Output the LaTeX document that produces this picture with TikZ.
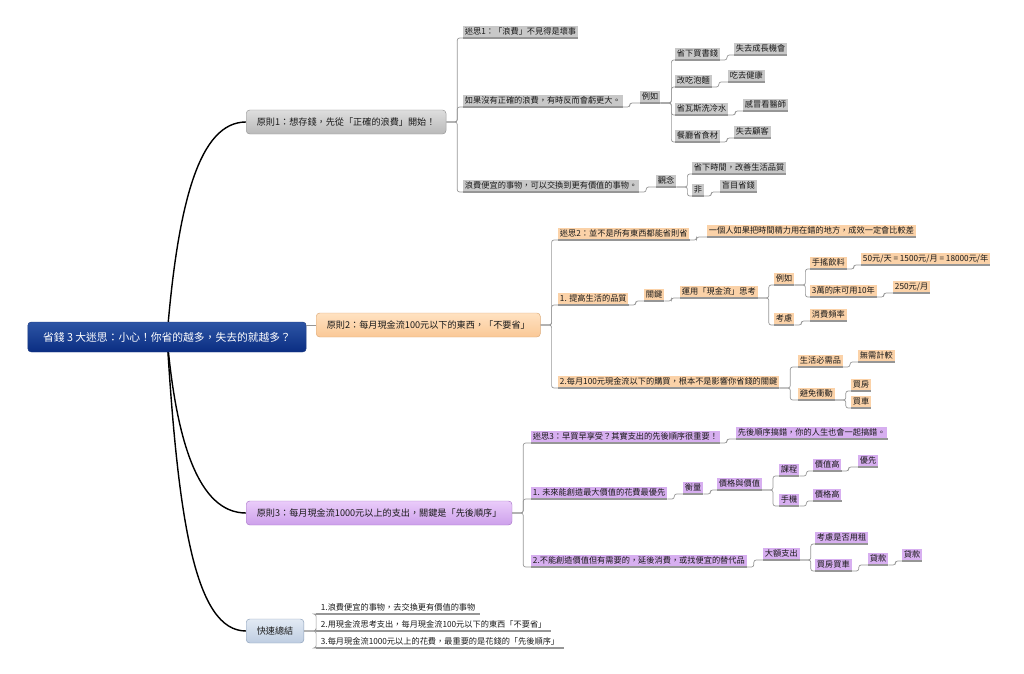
\documentclass[tikz,border=0pt]{standalone}
\usepackage{fontspec}
\setmainfont{Noto Sans CJK TC}[Language=Chinese Traditional]
\usetikzlibrary{positioning}
\usetikzlibrary{backgrounds}

\definecolor{roottop}{RGB}{45,85,165}
\definecolor{rootbot}{RGB}{10,45,130}
\definecolor{rootedge}{RGB}{30,60,130}
\definecolor{gtop}{RGB}{222,222,222}
\definecolor{gbot}{RGB}{185,185,185}
\definecolor{gedge}{RGB}{150,150,150}
\definecolor{otop}{RGB}{255,226,194}
\definecolor{obot}{RGB}{250,200,150}
\definecolor{oedge}{RGB}{220,170,120}
\definecolor{ptop}{RGB}{234,204,250}
\definecolor{pbot}{RGB}{205,160,235}
\definecolor{pedge}{RGB}{170,120,200}
\definecolor{stop}{RGB}{226,234,244}
\definecolor{sbot}{RGB}{190,205,225}
\definecolor{sedge}{RGB}{140,160,185}
\definecolor{fillg}{RGB}{200,200,200}
\definecolor{fillo}{RGB}{251,210,168}
\definecolor{fillp}{RGB}{215,175,240}
\definecolor{linegray}{RGB}{150,150,150}

\begin{document}
\begin{tikzpicture}[
    x=0.03cm, y=-0.03cm,
    font=\fontsize{7}{8}\selectfont
]
\tikzset{
    rootnode/.style = {rounded corners=3pt, draw=rootedge, top color=roottop, bottom color=rootbot, text=white, inner xsep=13pt, minimum height=0.9cm, font=\fontsize{9.2}{10}\selectfont},
    topic/.style = {rounded corners=3pt, anchor=west, inner xsep=9pt, minimum height=0.72cm, text=black!90, font=\fontsize{7.8}{9}\selectfont},
    topicg/.style = {topic, draw=gedge, top color=gtop, bottom color=gbot},
    topico/.style = {topic, draw=oedge, top color=otop, bottom color=obot},
    topicp/.style = {topic, draw=pedge, top color=ptop, bottom color=pbot},
    topics/.style = {topic, draw=sedge, top color=stop, bottom color=sbot},
    uline/.style = {draw=linegray, line width=0.9pt},
    leaf/.style = {anchor=south west, inner xsep=1.5pt, inner ysep=0pt, minimum height=0.36cm, text=black!90,
        append after command={(\tikzlastnode.south west) edge[uline] (\tikzlastnode.south east)}},
    leafg/.style = {leaf, fill=fillg},
    leafo/.style = {leaf, fill=fillo},
    leafp/.style = {leaf, fill=fillp},
    leafs/.style = {leaf, inner xsep=4pt},
    link/.style = {draw=linegray, line width=0.6pt, rounded corners=2pt},
    elbow/.style = {to path={-- ++(#1,0) |- (\tikztotarget)}},
    elbow/.default = 11,
    curve/.style = {black, line width=1.2pt}
}
\useasboundingbox (0,0) rectangle (1024,674);

\node[rootnode] at (167,337) (root) {省錢 3 大迷思：小心！你省的越多，失去的就越多？};
\node[topicg] at (246,122) (p1) {原則1：想存錢，先從「正確的浪費」開始！};
\node[topico] at (316,325) (p2) {原則2：每月現金流100元以下的東西，「不要省」};
\node[topicp] at (246,513) (p3) {原則3：每月現金流1000元以上的支出，關鍵是「先後順序」};
\node[topics] at (246,631) (sum) {快速總結};

\node[leafg] at (463,38) (a1) {迷思1：「浪費」不見得是壞事};
\node[leafg] at (463,107) (a2) {如果沒有正確的浪費，有時反而會虧更大。};
\node[leafg] at (640,103) (a21) {例如};
\node[leafg] at (675,60) (a211) {省下買書錢};
\node[leafg] at (734,55) (a2111) {失去成長機會};
\node[leafg] at (675,87) (a212) {改吃泡麵};
\node[leafg] at (728,82) (a2121) {吃去健康};
\node[leafg] at (675,115) (a213) {省瓦斯洗冷水};
\node[leafg] at (743,111) (a2131) {感冒看醫師};
\node[leafg] at (675,142) (a214) {餐廳省食材};
\node[leafg] at (734,138) (a2141) {失去顧客};
\node[leafg] at (463,192) (a3) {浪費便宜的事物，可以交換到更有價值的事物。};
\node[leafg] at (656,187) (a31) {觀念};
\node[leafg] at (692,174) (a311) {省下時間，改善生活品質};
\node[leafg] at (692,196) (a312) {非};
\node[leafg] at (720,192) (a3121) {盲目省錢};

\node[leafo] at (558,240) (b1) {迷思2：並不是所有東西都能省則省};
\node[leafo] at (707,237) (b11) {一個人如果把時間精力用在錯的地方，成效一定會比較差};
\node[leafo] at (558,305) (b2) {1. 提高生活的品質};
\node[leafo] at (644,301) (b21) {關鍵};
\node[leafo] at (680,298) (b211) {運用「現金流」思考};
\node[leafo] at (774,285) (b2111) {例如};
\node[leafo] at (810,269) (b21111) {手搖飲料};
\node[leafo] at (861,265) (b211111) {50元/天 = 1500元/月 = 18000元/年};
\node[leafo] at (810,297) (b21112) {3萬的床可用10年};
\node[leafo] at (893,293) (b211121) {250元/月};
\node[leafo] at (774,325) (b2112) {考慮};
\node[leafo] at (810,321) (b21121) {消費頻率};
\node[leafo] at (558,388) (b3) {2.每月100元現金流以下的購買，根本不是影響你省錢的關鍵};
\node[leafo] at (798,367) (b31) {生活必需品};
\node[leafo] at (858,362) (b311) {無需計較};
\node[leafo] at (798,400) (b32) {避免衝動};
\node[leafo] at (851,391) (b321) {買房};
\node[leafo] at (851,408) (b322) {買車};

\node[leafp] at (531,443) (c1) {迷思3：早買早享受？其實支出的先後順序很重要！};
\node[leafp] at (736,439) (c11) {先後順序搞錯，你的人生也會一起搞錯。};
\node[leafp] at (531,499) (c2) {1. 未來能創造最大價值的花費最優先};
\node[leafp] at (683,494) (c21) {衡量};
\node[leafp] at (717,490) (c211) {價格與價值};
\node[leafp] at (779,476) (c2111) {課程};
\node[leafp] at (813,471) (c21111) {價值高};
\node[leafp] at (858,467) (c211111) {優先};
\node[leafp] at (779,506) (c2112) {手機};
\node[leafp] at (813,501) (c21121) {價格高};
\node[leafp] at (531,567) (c3) {2.不能創造價值但有需要的，延後消費，或找便宜的替代品};
\node[leafp] at (763,560) (c31) {大額支出};
\node[leafp] at (815,544) (c311) {考慮是否用租};
\node[leafp] at (815,571) (c312) {買房買車};
\node[leafp] at (868,565) (c3121) {貸款};
\node[leafp] at (902,561) (c31211) {貸款};

\node[leafs] at (316,614) (s1) {1.浪費便宜的事物，去交換更有價值的事物};
\node[leafs] at (316,631) (s2) {2.用現金流思考支出，每月現金流100元以下的東西「不要省」};
\node[leafs] at (316,648) (s3) {3.每月現金流1000元以上的花費，最重要的是花錢的「先後順序」};

\begin{scope}[on background layer]
\draw[curve] (root.center) .. controls (178,200) and (200,122) .. (p1.west);
\draw[curve] (root.center) .. controls (176,440) and (198,513) .. (p3.west);
\draw[curve] (root.center) .. controls (178,520) and (195,631) .. (sum.west);
\end{scope}
\draw[link] (root.east |- p2.west) -- (p2.west);

\draw[link] (p1.east) edge[elbow] (a1.south west) edge[elbow] (a2.south west) edge[elbow] (a3.south west);
\draw[link] (a2.south east) to[elbow=7] (a21.south west);
\draw[link] (a21.south east) edge[elbow] (a211.south west) edge[elbow] (a212.south west)
    edge[elbow] (a213.south west) edge[elbow] (a214.south west);
\draw[link] (a211.south east) to[elbow=7] (a2111.south west);
\draw[link] (a212.south east) to[elbow=7] (a2121.south west);
\draw[link] (a213.south east) to[elbow=7] (a2131.south west);
\draw[link] (a214.south east) to[elbow=7] (a2141.south west);
\draw[link] (a3.south east) to[elbow=7] (a31.south west);
\draw[link] (a31.south east) edge[elbow] (a311.south west) edge[elbow] (a312.south west);
\draw[link] (a312.south east) to[elbow=7] (a3121.south west);

\draw[link] (p2.east) edge[elbow] (b1.south west) edge[elbow] (b2.south west) edge[elbow] (b3.south west);
\draw[link] (b1.south east) to[elbow=7] (b11.south west);
\draw[link] (b2.south east) to[elbow=7] (b21.south west);
\draw[link] (b21.south east) to[elbow=7] (b211.south west);
\draw[link] (b211.south east) edge[elbow] (b2111.south west) edge[elbow] (b2112.south west);
\draw[link] (b2111.south east) edge[elbow] (b21111.south west) edge[elbow] (b21112.south west);
\draw[link] (b21111.south east) to[elbow=7] (b211111.south west);
\draw[link] (b21112.south east) to[elbow=7] (b211121.south west);
\draw[link] (b2112.south east) to[elbow=7] (b21121.south west);
\draw[link] (b3.south east) edge[elbow] (b31.south west) edge[elbow] (b32.south west);
\draw[link] (b31.south east) to[elbow=7] (b311.south west);
\draw[link] (b32.south east) edge[elbow] (b321.south west) edge[elbow] (b322.south west);

\draw[link] (p3.east) edge[elbow] (c1.south west) edge[elbow] (c2.south west) edge[elbow] (c3.south west);
\draw[link] (c1.south east) to[elbow=7] (c11.south west);
\draw[link] (c2.south east) to[elbow=7] (c21.south west);
\draw[link] (c21.south east) to[elbow=7] (c211.south west);
\draw[link] (c211.south east) edge[elbow] (c2111.south west) edge[elbow] (c2112.south west);
\draw[link] (c2111.south east) to[elbow=7] (c21111.south west);
\draw[link] (c21111.south east) to[elbow=7] (c211111.south west);
\draw[link] (c2112.south east) to[elbow=7] (c21121.south west);
\draw[link] (c3.south east) to[elbow=7] (c31.south west);
\draw[link] (c31.south east) edge[elbow] (c311.south west) edge[elbow] (c312.south west);
\draw[link] (c312.south east) to[elbow=7] (c3121.south west);
\draw[link] (c3121.south east) to[elbow=7] (c31211.south west);

\draw[link] (sum.east) edge[elbow=12] (s1.south west) edge[elbow=12] (s2.south west) edge[elbow=12] (s3.south west);
\end{tikzpicture}
\end{document}
